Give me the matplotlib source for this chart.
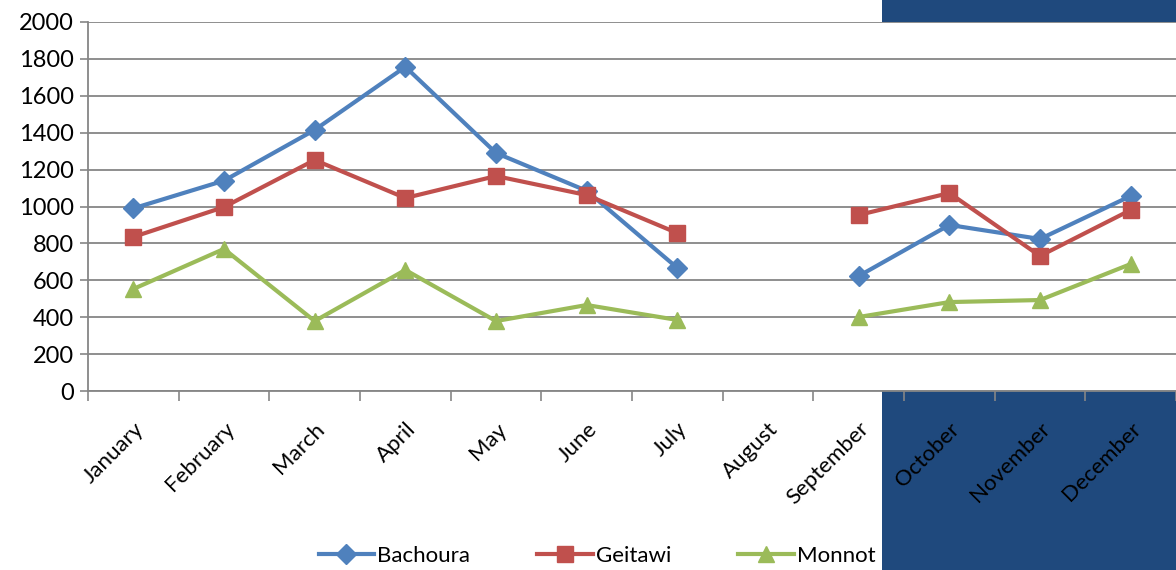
import numpy as np
import matplotlib.pyplot as plt
from matplotlib.patches import Rectangle

months = ["January", "February", "March", "April", "May", "June", "July",
          "August", "September", "October", "November", "December"]
bachoura = [990, 1140, 1415, 1757, 1290, 1085, 667, np.nan, 623, 900, 824, 1057]
geitawi = [835, 997, 1252, 1046, 1165, 1062, 856, np.nan, 954, 1073, 732, 981]
monnot = [553, 770, 379, 656, 379, 466, 385, np.nan, 401, 482, 493, 688]
yticks = list(range(0, 2001, 200))

plt.rcParams['font.family'] = ['Lato', 'DejaVu Sans']

fig = plt.figure(figsize=(11.76, 5.70), dpi=100)

# dark blue slide shape behind the chart
bg = fig.add_axes([0, 0, 1, 1], zorder=0)
bg.set_axis_off()
bg.set_xlim(0, 1176)
bg.set_ylim(570, 0)
bg.add_patch(Rectangle((882, 0), 294, 570, facecolor='#1f497d', edgecolor='none'))

ax = fig.add_axes([88 / 1176, 1 - 391 / 570, 1 - 88 / 1176, 369 / 570], zorder=1)
ax.set_facecolor('white')

x = np.arange(len(months))
ax.plot(x, bachoura, color='#4f81bd', lw=3, marker='D', ms=10, label='Bachoura', zorder=3)
ax.plot(x, geitawi, color='#c0504d', lw=3, marker='s', ms=11, label='Geitawi', zorder=3)
ax.plot(x, monnot, color='#9bbb59', lw=3, marker='^', ms=12, label='Monnot', zorder=3)

ax.set_xlim(-0.5, 11.5)
ax.set_ylim(0, 2000)
ax.set_yticks(yticks)
ax.tick_params(axis='y', labelsize=17, length=6, color='#868686', width=1.2, pad=4)
ax.yaxis.grid(True, color='#868686', lw=1.3)
ax.set_axisbelow(True)

ax.set_xticks(x)
ax.set_xticklabels(months, rotation=45, ha='right', va='top', rotation_mode='anchor', fontsize=16)
ax.set_xticks(np.arange(-0.5, 12, 1), minor=True)
ax.tick_params(axis='x', which='major', length=0, pad=20)
ax.tick_params(axis='x', which='minor', length=7, color='#868686', width=1.2)
for lab in ax.get_xticklabels():
    lab.set_x(lab.get_position()[0] + 0.12)

for s in ['top', 'right']:
    ax.spines[s].set_visible(False)
for s in ['left', 'bottom']:
    ax.spines[s].set_color('#868686')
    ax.spines[s].set_linewidth(1.3)

leg = ax.legend(loc='center', bbox_to_anchor=(597 / 1176, 1 - 556 / 570), bbox_transform=fig.transFigure,
                ncol=3, frameon=False, fontsize=16, handlelength=2.5, handletextpad=0.15, columnspacing=3.0)

fig.savefig('out.png', dpi=100)
